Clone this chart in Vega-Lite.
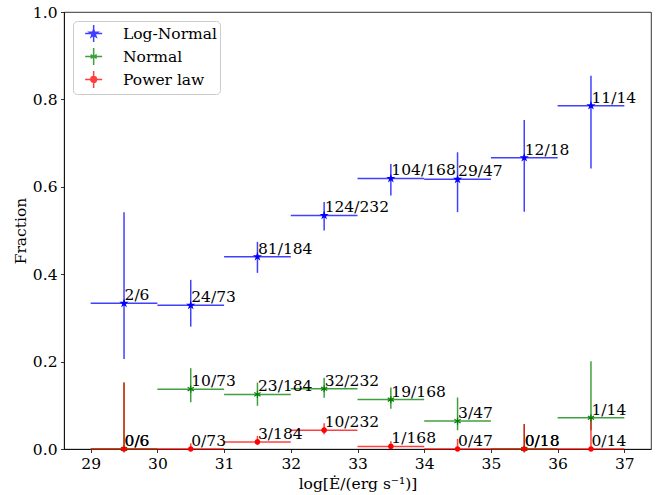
{
  "$schema": "https://vega.github.io/schema/vega-lite/v6.json",
  "width": 587,
  "height": 437,
  "autosize": {"type": "none"},
  "padding": {"left": 64, "top": 12, "right": 8, "bottom": 46},
  "background": "white",
  "config": {
    "view": {"stroke": "black", "strokeWidth": 0.8},
    "axis": {
      "labelFont": "DejaVu Serif", "labelFontSize": 15.5, "labelColor": "black",
      "titleFont": "DejaVu Serif", "titleFontSize": 15.5, "titleFontWeight": "normal", "titleColor": "black",
      "tickColor": "black", "tickSize": 3.5, "tickWidth": 0.8,
      "domainColor": "black", "domainWidth": 0.8,
      "grid": false, "labelPadding": 3.5
    },
    "legend": {
      "labelFont": "DejaVu Serif", "labelFontSize": 15.5, "labelColor": "black"
    }
  },
  "data": {
    "values": [
      {"series": "Log-Normal", "ebin": 29.5, "lo_bin": 29, "hi_bin": 30, "frac": 0.3333, "lo": 0.206, "hi": 0.542, "label": "2/6"},
      {"series": "Log-Normal", "ebin": 30.5, "lo_bin": 30, "hi_bin": 31, "frac": 0.3288, "lo": 0.280, "hi": 0.387, "label": "24/73"},
      {"series": "Log-Normal", "ebin": 31.5, "lo_bin": 31, "hi_bin": 32, "frac": 0.4402, "lo": 0.403, "hi": 0.474, "label": "81/184"},
      {"series": "Log-Normal", "ebin": 32.5, "lo_bin": 32, "hi_bin": 33, "frac": 0.5345, "lo": 0.500, "hi": 0.565, "label": "124/232"},
      {"series": "Log-Normal", "ebin": 33.5, "lo_bin": 33, "hi_bin": 34, "frac": 0.6190, "lo": 0.580, "hi": 0.652, "label": "104/168"},
      {"series": "Log-Normal", "ebin": 34.5, "lo_bin": 34, "hi_bin": 35, "frac": 0.6170, "lo": 0.542, "hi": 0.679, "label": "29/47"},
      {"series": "Log-Normal", "ebin": 35.5, "lo_bin": 35, "hi_bin": 36, "frac": 0.6667, "lo": 0.543, "hi": 0.753, "label": "12/18"},
      {"series": "Log-Normal", "ebin": 36.5, "lo_bin": 36, "hi_bin": 37, "frac": 0.7857, "lo": 0.642, "hi": 0.854, "label": "11/14"},
      {"series": "Normal", "ebin": 29.5, "lo_bin": 29, "hi_bin": 30, "frac": 0.0, "lo": 0.0, "hi": 0.152, "label": "0/6"},
      {"series": "Normal", "ebin": 30.5, "lo_bin": 30, "hi_bin": 31, "frac": 0.1370, "lo": 0.107, "hi": 0.185, "label": "10/73"},
      {"series": "Normal", "ebin": 31.5, "lo_bin": 31, "hi_bin": 32, "frac": 0.1250, "lo": 0.099, "hi": 0.152, "label": "23/184"},
      {"series": "Normal", "ebin": 32.5, "lo_bin": 32, "hi_bin": 33, "frac": 0.1379, "lo": 0.117, "hi": 0.163, "label": "32/232"},
      {"series": "Normal", "ebin": 33.5, "lo_bin": 33, "hi_bin": 34, "frac": 0.1131, "lo": 0.092, "hi": 0.141, "label": "19/168"},
      {"series": "Normal", "ebin": 34.5, "lo_bin": 34, "hi_bin": 35, "frac": 0.0638, "lo": 0.043, "hi": 0.118, "label": "3/47"},
      {"series": "Normal", "ebin": 35.5, "lo_bin": 35, "hi_bin": 36, "frac": 0.0, "lo": 0.0, "hi": 0.057, "label": "0/18"},
      {"series": "Normal", "ebin": 36.5, "lo_bin": 36, "hi_bin": 37, "frac": 0.0714, "lo": 0.043, "hi": 0.201, "label": "1/14"},
      {"series": "Power law", "ebin": 29.5, "lo_bin": 29, "hi_bin": 30, "frac": 0.0, "lo": 0.0, "hi": 0.152, "label": "0/6"},
      {"series": "Power law", "ebin": 30.5, "lo_bin": 30, "hi_bin": 31, "frac": 0.0, "lo": 0.0, "hi": 0.013, "label": "0/73"},
      {"series": "Power law", "ebin": 31.5, "lo_bin": 31, "hi_bin": 32, "frac": 0.0163, "lo": 0.009, "hi": 0.030, "label": "3/184"},
      {"series": "Power law", "ebin": 32.5, "lo_bin": 32, "hi_bin": 33, "frac": 0.0431, "lo": 0.034, "hi": 0.059, "label": "10/232"},
      {"series": "Power law", "ebin": 33.5, "lo_bin": 33, "hi_bin": 34, "frac": 0.0060, "lo": 0.001, "hi": 0.018, "label": "1/168"},
      {"series": "Power law", "ebin": 34.5, "lo_bin": 34, "hi_bin": 35, "frac": 0.0, "lo": 0.0, "hi": 0.023, "label": "0/47"},
      {"series": "Power law", "ebin": 35.5, "lo_bin": 35, "hi_bin": 36, "frac": 0.0, "lo": 0.0, "hi": 0.057, "label": "0/18"},
      {"series": "Power law", "ebin": 36.5, "lo_bin": 36, "hi_bin": 37, "frac": 0.0, "lo": 0.0, "hi": 0.068, "label": "0/14"}
    ]
  },
  "layer": [
    {
      "mark": {"type": "rule", "strokeWidth": 1.5, "opacity": 0.75},
      "encoding": {
        "x": {"field": "lo_bin", "type": "quantitative",
              "scale": {"domain": [28.6, 37.4], "nice": false, "zero": false},
              "axis": {"values": [29, 30, 31, 32, 33, 34, 35, 36, 37], "format": "d", "title": "log[Ė/(erg s⁻¹)]", "titlePadding": 5}},
        "x2": {"field": "hi_bin"},
        "y": {"field": "frac", "type": "quantitative",
              "scale": {"domain": [0, 1], "nice": false, "zero": false},
              "axis": {"values": [0, 0.2, 0.4, 0.6, 0.8, 1.0], "format": ".1f", "title": "Fraction", "titlePadding": 4}},
        "color": {"field": "series", "type": "nominal",
                  "scale": {"domain": ["Log-Normal", "Normal", "Power law"], "range": ["#0000ff", "#008000", "#ff0000"]}}
      }
    },
    {
      "mark": {"type": "rule", "strokeWidth": 1.5, "opacity": 0.75},
      "encoding": {
        "x": {"field": "ebin", "type": "quantitative"},
        "y": {"field": "lo", "type": "quantitative"},
        "y2": {"field": "hi"},
        "color": {"field": "series", "type": "nominal"}
      }
    },
    {
      "transform": [{"filter": "datum.series === 'Log-Normal'"}],
      "mark": {"type": "point", "filled": true, "opacity": 1, "size": 95, "color": "#0000ff",
               "shape": "M0,-1L0.225,-0.309L0.951,-0.309L0.363,0.118L0.588,0.809L0,0.382L-0.588,0.809L-0.363,0.118L-0.951,-0.309L-0.225,-0.309Z"},
      "encoding": {
        "x": {"field": "ebin", "type": "quantitative"},
        "y": {"field": "frac", "type": "quantitative"}
      }
    },
    {
      "transform": [{"filter": "datum.series === 'Normal'"}],
      "mark": {"type": "point", "filled": false, "opacity": 1, "size": 64, "strokeWidth": 1.2, "color": "#008000",
               "shape": "M0,-0.9V0.9M-0.78,-0.45L0.78,0.45M-0.78,0.45L0.78,-0.45"},
      "encoding": {
        "x": {"field": "ebin", "type": "quantitative"},
        "y": {"field": "frac", "type": "quantitative"}
      }
    },
    {
      "transform": [{"filter": "datum.series === 'Power law'"}],
      "mark": {"type": "point", "filled": true, "opacity": 1, "size": 64, "color": "#ff0000",
               "shape": "M0.7,0A0.7,0.7 0 1,1 -0.7,0A0.7,0.7 0 1,1 0.7,0Z"},
      "encoding": {
        "x": {"field": "ebin", "type": "quantitative"},
        "y": {"field": "frac", "type": "quantitative"}
      }
    },
    {
      "mark": {"type": "point", "filled": true, "opacity": 1, "size": 0, "strokeWidth": 1.5},
      "encoding": {
        "x": {"field": "ebin", "type": "quantitative"},
        "y": {"field": "frac", "type": "quantitative"},
        "color": {"field": "series", "type": "nominal",
                  "legend": {
                    "title": null,
                    "orient": "top-left",
                    "offset": 9,
                    "padding": 3,
                    "rowPadding": 0,
                    "symbolSize": 289,
                    "symbolOpacity": 1,
                    "symbolStrokeWidth": 1.5,
                    "labelOffset": 28,
                    "strokeColor": "#cccccc",
                    "fillColor": "rgba(255,255,255,0.8)",
                    "cornerRadius": 4
                  }},
        "shape": {"field": "series", "type": "nominal",
                  "scale": {"domain": ["Log-Normal", "Normal", "Power law"],
                            "range": [
                              "M-0.04,0H1.96M0.96,-1V1M0.96,-0.5L1.07,-0.15L1.44,-0.15L1.14,0.06L1.25,0.4L0.96,0.19L0.67,0.4L0.78,0.06L0.48,-0.15L0.85,-0.15Z",
                              "M-0.04,0H1.96M0.96,-1V1M0.6,-0.22L1.32,0.22M0.6,0.22L1.32,-0.22",
                              "M-0.04,0H1.96M0.96,-1V1M1.3,0A0.34,0.34 0 1,1 0.62,0A0.34,0.34 0 1,1 1.3,0Z"
                            ]}},
        "stroke": {"field": "series", "type": "nominal",
                   "scale": {"domain": ["Log-Normal", "Normal", "Power law"], "range": ["#0000ff", "#008000", "#ff0000"]}}
      }
    },
    {
      "mark": {"type": "text", "align": "left", "baseline": "alphabetic", "dx": 0.5, "dy": -3,
               "font": "DejaVu Serif", "fontSize": 15.5, "color": "black"},
      "encoding": {
        "x": {"field": "ebin", "type": "quantitative"},
        "y": {"field": "frac", "type": "quantitative"},
        "text": {"field": "label"}
      }
    }
  ]
}
